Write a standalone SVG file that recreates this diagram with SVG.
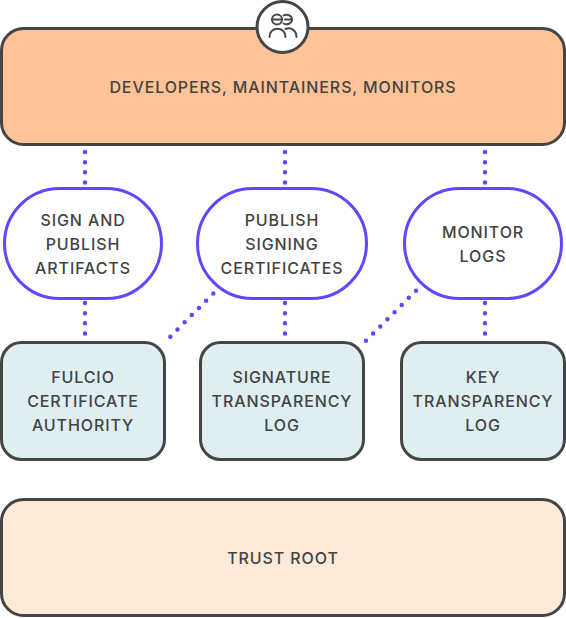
<svg xmlns="http://www.w3.org/2000/svg" width="566" height="618" viewBox="0 0 566 618">
<style>
text{font-family:"Inter","Liberation Sans",sans-serif;font-size:16px;font-weight:500;letter-spacing:.9px;fill:#434343;text-anchor:middle}
.box{stroke:#454545;stroke-width:3}
.pill{fill:#fff;stroke:#6048ff;stroke-width:3}
.dot{fill:none;stroke:#6048ff;stroke-width:4.500;stroke-linecap:round;stroke-dasharray:0 10.150}
.ic{fill:none;stroke:#4a4a4a;stroke-width:2;stroke-linecap:round}
</style>
<rect width="566" height="618" fill="#fff"/>
<g id="connectors">
<path class="dot" d="M85 152V183"/><path class="dot" d="M85 303V334"/>
<path class="dot" d="M285 152V183"/><path class="dot" d="M285 303V334"/>
<path class="dot" d="M485 152V183"/><path class="dot" d="M485 303V334"/>
<path class="dot" d="M213.300 293.500L170 337"/>
<path class="dot" d="M416 290.700L365.500 341.200" style="stroke-dasharray:0 10.100"/>
</g>
<g id="developers">
<rect class="box" x="1.500" y="28.500" width="563" height="116" rx="22" fill="#ffc397"/>
<text x="283" y="92.500">DEVELOPERS, MAINTAINERS, MONITORS</text>
<circle cx="282.500" cy="27" r="25.500" fill="#fff" stroke="#454545" stroke-width="3"/>
<circle class="ic" cx="277" cy="19.500" r="5"/><path class="ic" d="M272 19.500H282"/>
<path class="ic" d="M283.500 15.500C287 13.500 292 15.500 292 19.500C292 23.500 287 25.500 283.500 23.500M285 19.500H292"/>
<path class="ic" d="M269.500 37C269.500 26 285.500 26 285.500 37"/>
<path class="ic" d="M285.500 29C290.500 27 296.500 30 296.500 37"/>
</g>
<g id="sign"><rect class="pill" x="4.500" y="188.500" width="157" height="110" rx="55"/>
<text x="83" y="226">SIGN AND</text><text x="83" y="250">PUBLISH</text><text x="83" y="274">ARTIFACTS</text></g>
<g id="publish"><rect class="pill" x="197.500" y="188.500" width="169" height="110" rx="55"/>
<text x="282" y="226">PUBLISH</text><text x="282" y="250">SIGNING</text><text x="282" y="274">CERTIFICATES</text></g>
<g id="monitor"><rect class="pill" x="404.500" y="188.500" width="157" height="110" rx="55"/>
<text x="483" y="238">MONITOR</text><text x="483" y="262">LOGS</text></g>
<g id="fulcio"><rect class="box" x="1.500" y="342.500" width="163" height="117" rx="20" fill="#dfeef1"/>
<text x="83" y="383">FULCIO</text><text x="83" y="407">CERTIFICATE</text><text x="83" y="431">AUTHORITY</text></g>
<g id="signature"><rect class="box" x="200.500" y="342.500" width="163" height="117" rx="20" fill="#dfeef1"/>
<text x="282" y="383">SIGNATURE</text><text x="282" y="407">TRANSPARENCY</text><text x="282" y="431">LOG</text></g>
<g id="key"><rect class="box" x="401.500" y="342.500" width="163" height="117" rx="20" fill="#dfeef1"/>
<text x="483" y="383">KEY</text><text x="483" y="407">TRANSPARENCY</text><text x="483" y="431">LOG</text></g>
<g id="trust"><rect class="box" x="1.500" y="499.500" width="563" height="116" rx="22" fill="#ffe9d8"/>
<text x="283" y="564">TRUST ROOT</text></g>
</svg>
